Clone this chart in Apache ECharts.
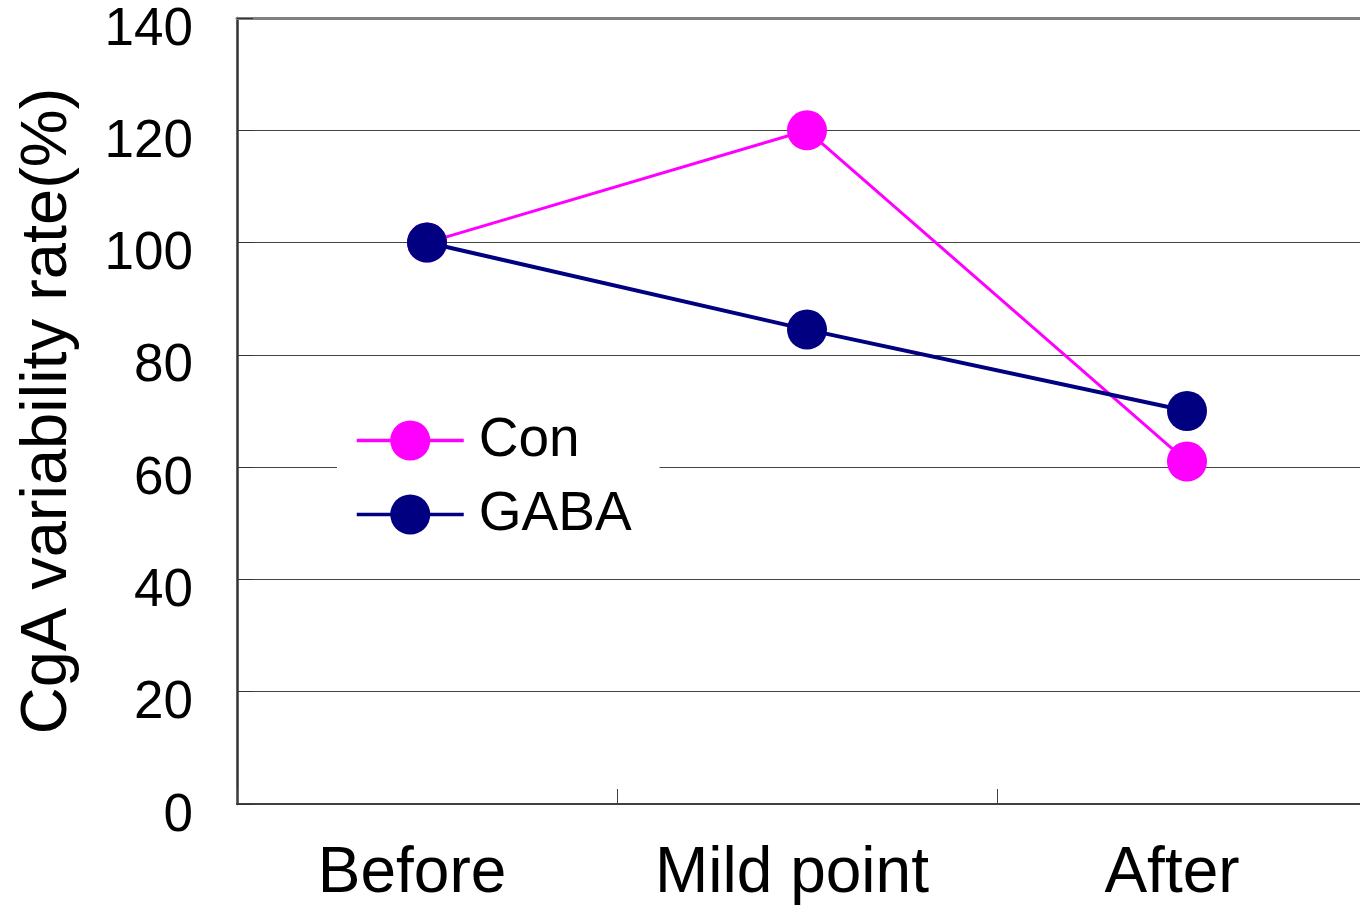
<!DOCTYPE html>
<html>
<head>
<meta charset="utf-8">
<script src="https://cdn.jsdelivr.net/npm/echarts@6/dist/echarts.min.js"></script>
<style>
html,body{margin:0;padding:0;background:#fff;}
#chart{width:1360px;height:907px;}
</style>
</head>
<body>
<div id="chart"></div>
<script>
const categories = ['Before', 'Mild point', 'After'];
const conValues = [100, 120, 61];
const gabaValues = [100, 84.5, 70];
const yTicks = { min: 0, max: 140, interval: 20 };
const yAxisTitle = 'CgA variability rate(%)';
const seriesNames = ['Con', 'GABA'];

const FONT = '"Liberation Sans", Arial, sans-serif';
const chart = echarts.init(document.getElementById('chart'));
chart.setOption({
  backgroundColor: '#ffffff',
  animation: false,
  grid: { left: 237, right: -17, top: 18, bottom: 103, containLabel: false, outerBoundsMode: 'none' },
  legend: {
    data: seriesNames,
    orient: 'vertical',
    left: 337,
    top: 403,
    padding: [10, 28, 10, 18],
    backgroundColor: '#ffffff',
    itemWidth: 107,
    itemHeight: 50,
    itemGap: 19,
    itemTextGap: 8,
    lineStyle: { width: 3.5 },
    textStyle: { fontFamily: FONT, fontSize: 55, color: '#000', lineHeight: 50, padding: [0, 0, 0, 10] }
  },
  xAxis: [{
    type: 'category',
    data: categories,
    boundaryGap: true,
    position: 'bottom',
    axisLine: { lineStyle: { color: '#404040', width: 2 } },
    axisTick: { show: true, inside: true, length: 15, lineStyle: { color: '#404040', width: 1 } },
    axisLabel: { fontFamily: FONT, fontSize: 64, color: '#000', margin: 38, padding: [0, 30, 0, 0] },
    splitLine: { show: false }
  }, {
    type: 'category',
    data: categories,
    position: 'top',
    axisLine: { lineStyle: { color: '#808080', width: 3 } },
    axisTick: { show: false },
    axisLabel: { show: false },
    splitLine: { show: false }
  }],
  yAxis: {
    type: 'value',
    min: yTicks.min,
    max: yTicks.max,
    interval: yTicks.interval,
    name: yAxisTitle,
    nameLocation: 'middle',
    nameGap: 156,
    nameTextStyle: { fontFamily: FONT, fontSize: 65, color: '#000' },
    axisLine: { show: true, lineStyle: { color: '#333', width: 2.5 } },
    axisTick: { show: true, inside: true, length: 16, lineStyle: { color: '#333', width: 1 } },
    axisLabel: { fontFamily: FONT, fontSize: 53, color: '#000', margin: 44, verticalAlign: 'top', lineHeight: 24 },
    splitLine: { show: true, lineStyle: { color: '#444', width: 1 } }
  },
  series: [{
    name: seriesNames[0],
    type: 'line',
    data: conValues,
    symbol: 'circle',
    symbolSize: 40,
    lineStyle: { color: '#ff00ff', width: 3 },
    itemStyle: { color: '#ff00ff' },
    z: 3
  }, {
    name: seriesNames[1],
    type: 'line',
    data: gabaValues,
    symbol: 'circle',
    symbolSize: 40,
    lineStyle: { color: '#000080', width: 4 },
    itemStyle: { color: '#000080' },
    z: 4
  }]
});
</script>
</body>
</html>
